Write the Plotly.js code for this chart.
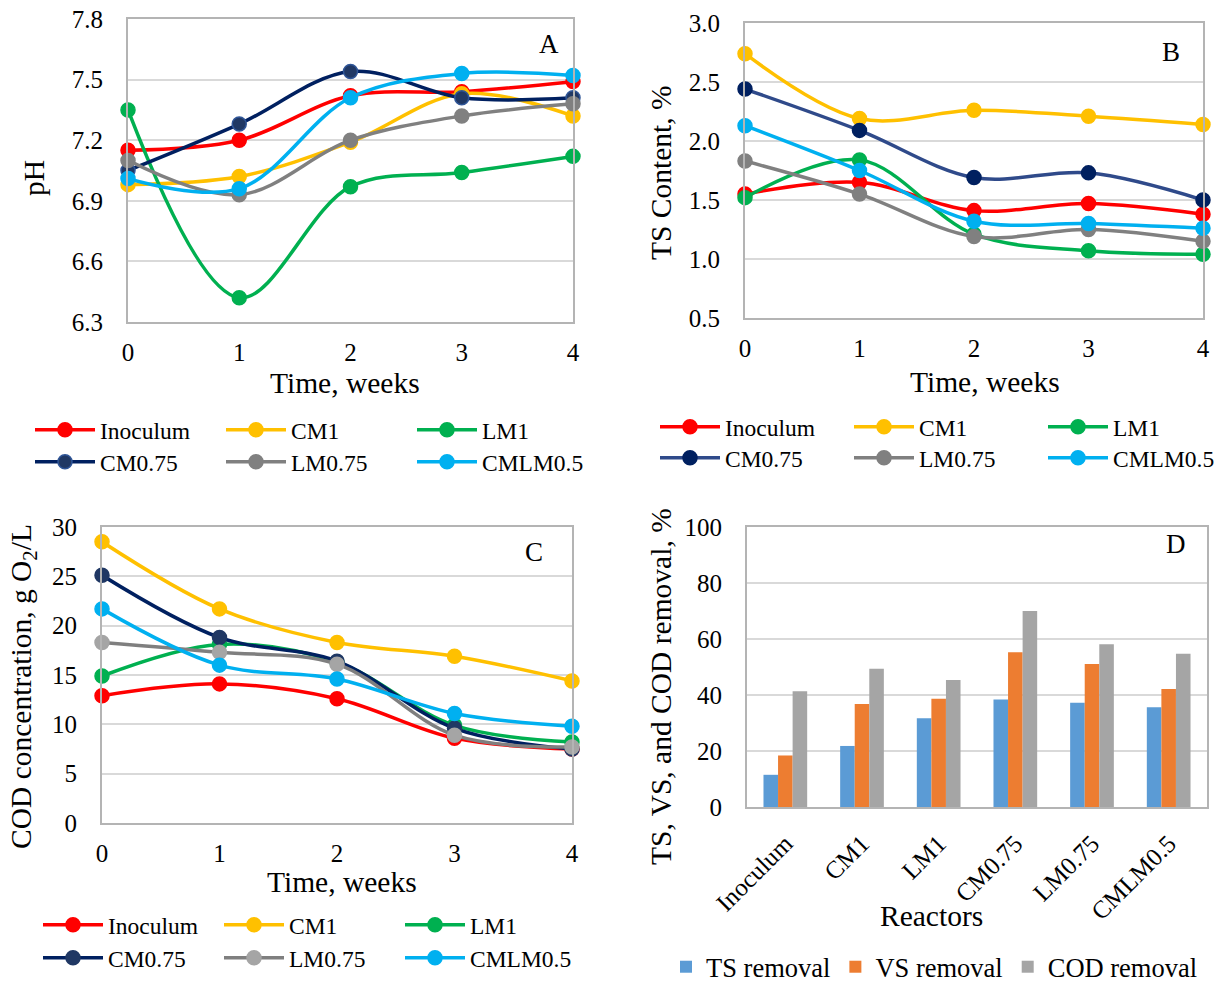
<!DOCTYPE html>
<html>
<head>
<meta charset="utf-8">
<script src="https://cdn.plot.ly/plotly-3.0.1.min.js"></script>
<style>
  html, body { margin: 0; padding: 0; background: #ffffff; }
  #chart { width: 1227px; height: 985px; }
</style>
</head>
<body>
<div id="chart"></div>
<script>
// data
var weeks = [0, 1, 2, 3, 4];
var reactors = ["Inoculum", "CM1", "LM1", "CM0.75", "LM0.75", "CMLM0.5"];

// A: pH
var phInoculum = [7.15, 7.20, 7.42, 7.44, 7.49];
var phCM1      = [6.98, 7.02, 7.19, 7.43, 7.32];
var phLM1      = [7.35, 6.42, 6.97, 7.04, 7.12];
var phCM075    = [7.05, 7.28, 7.54, 7.41, 7.41];
var phLM075    = [7.10, 6.93, 7.20, 7.32, 7.38];
var phCMLM05   = [7.01, 6.96, 7.41, 7.53, 7.52];

// B: TS content, %
var tsInoculum = [1.55, 1.65, 1.41, 1.47, 1.38];
var tsCM1      = [2.74, 2.19, 2.26, 2.21, 2.14];
var tsLM1      = [1.52, 1.84, 1.21, 1.07, 1.04];
var tsCM075    = [2.44, 2.09, 1.69, 1.73, 1.50];
var tsLM075    = [1.83, 1.55, 1.19, 1.25, 1.15];
var tsCMLM05   = [2.13, 1.75, 1.32, 1.30, 1.26];

// C: COD, g O2/L
var codInoculum = [12.9, 14.1, 12.6, 8.6, 7.5];
var codCM1      = [28.5, 21.7, 18.3, 16.9, 14.4];
var codLM1      = [14.9, 18.1, 16.3, 9.9, 8.2];
var codCM075    = [25.1, 18.8, 16.4, 9.6, 7.5];
var codLM075    = [18.3, 17.3, 16.1, 8.9, 7.7];
var codCMLM05   = [21.7, 16.0, 14.6, 11.1, 9.8];

// D: removal, %
var tsRemoval  = [11.5, 21.8, 31.7, 38.4, 37.2, 35.6];
var vsRemoval  = [18.4, 36.8, 38.7, 55.3, 51.1, 42.1];
var codRemoval = [41.3, 49.4, 45.4, 70.0, 58.1, 54.7];

var W = 1227, H = 985;

function px(x) { return x / W; }
function py(y) { return 1 - y / H; }

function serifFont(size)
{
    return { family: "Liberation Serif", size: size, color: "#000000" };
}

function lineTrace(name, y, color, markerColor, markerLine, xa, ya, legend)
{
    return {
        x: weeks,
        y: y,
        name: name,
        type: "scatter",
        mode: "lines+markers",
        xaxis: xa,
        yaxis: ya,
        legend: legend,
        cliponaxis: false,
        line: { color: color, width: 3.5, shape: "spline", smoothing: 1 },
        marker: { size: 14, color: markerColor, line: { color: markerLine, width: 1.5 } }
    };
}

var plotData = [];

// panel A
plotData.push(
    lineTrace("Inoculum", phInoculum, "#FF0000", "#FF0000", "#FF0000", "x", "y", "legend"),
    lineTrace("CM1", phCM1, "#FFC000", "#FFC000", "#FFC000", "x", "y", "legend"),
    lineTrace("LM1", phLM1, "#00B050", "#00B050", "#00B050", "x", "y", "legend"),
    lineTrace("CM0.75", phCM075, "#002060", "#203864", "#2F5597", "x", "y", "legend2"),
    lineTrace("LM0.75", phLM075, "#808080", "#808080", "#808080", "x", "y", "legend2"),
    lineTrace("CMLM0.5", phCMLM05, "#00B0F0", "#00B0F0", "#00B0F0", "x", "y", "legend2")
);

// panel B
plotData.push(
    lineTrace("Inoculum", tsInoculum, "#FF0000", "#FF0000", "#FF0000", "x2", "y2", "legend3"),
    lineTrace("CM1", tsCM1, "#FFC000", "#FFC000", "#FFC000", "x2", "y2", "legend3"),
    lineTrace("LM1", tsLM1, "#00B050", "#00B050", "#00B050", "x2", "y2", "legend3"),
    lineTrace("CM0.75", tsCM075, "#2F4A8A", "#002060", "#002060", "x2", "y2", "legend4"),
    lineTrace("LM0.75", tsLM075, "#808080", "#808080", "#808080", "x2", "y2", "legend4"),
    lineTrace("CMLM0.5", tsCMLM05, "#00B0F0", "#00B0F0", "#00B0F0", "x2", "y2", "legend4")
);

// panel C
plotData.push(
    lineTrace("Inoculum", codInoculum, "#FF0000", "#FF0000", "#FF0000", "x3", "y3", "legend5"),
    lineTrace("CM1", codCM1, "#FFC000", "#FFC000", "#FFC000", "x3", "y3", "legend5"),
    lineTrace("LM1", codLM1, "#00B050", "#00B050", "#00B050", "x3", "y3", "legend5"),
    lineTrace("CM0.75", codCM075, "#002060", "#203864", "#203864", "x3", "y3", "legend6"),
    lineTrace("LM0.75", codLM075, "#7F7F7F", "#A5A5A5", "#A5A5A5", "x3", "y3", "legend6"),
    lineTrace("CMLM0.5", codCMLM05, "#00B0F0", "#00B0F0", "#00B0F0", "x3", "y3", "legend6")
);

// panel D
var barSeries = [
    { name: "TS removal", y: tsRemoval, color: "#5B9BD5" },
    { name: "VS removal", y: vsRemoval, color: "#ED7D31" },
    { name: "COD removal", y: codRemoval, color: "#A5A5A5" }
];
for (var s of barSeries)
{
    plotData.push({
        x: reactors,
        y: s.y,
        name: s.name,
        type: "bar",
        xaxis: "x4",
        yaxis: "y4",
        legend: "legend7",
        marker: { color: s.color }
    });
}

var frameColor = "#B4B4B4";

function xAxis(domain, anchor)
{
    return {
        domain: domain,
        anchor: anchor,
        range: [0, 4],
        dtick: 1,
        showgrid: false,
        zeroline: false,
        showline: true,
        mirror: true,
        linecolor: frameColor,
        linewidth: 2,
        ticks: "",
        ticklabelstandoff: 7,
        tickfont: serifFont(25),
        fixedrange: true
    };
}

function yAxis(domain, anchor, range, dtick, fmt)
{
    return {
        domain: domain,
        anchor: anchor,
        range: range,
        dtick: dtick,
        tickformat: fmt,
        showgrid: true,
        gridcolor: "#D9D9D9",
        gridwidth: 2,
        zeroline: false,
        showline: true,
        mirror: true,
        linecolor: frameColor,
        linewidth: 2,
        ticks: "",
        ticklabelstandoff: 18,
        tickfont: serifFont(25),
        fixedrange: true
    };
}

function legendRow(x, y, entrywidth, size)
{
    return {
        x: px(x),
        y: py(y),
        xanchor: "left",
        yanchor: "middle",
        orientation: "h",
        font: serifFont(size),
        itemwidth: 60,
        entrywidth: entrywidth,
        entrywidthmode: "pixels",
        bgcolor: "rgba(0,0,0,0)",
        tracegroupgap: 0
    };
}

function label(text, x, y, size, angle)
{
    return {
        text: text,
        xref: "paper",
        yref: "paper",
        x: px(x),
        y: py(y),
        xanchor: "center",
        yanchor: "middle",
        textangle: angle || 0,
        showarrow: false,
        font: serifFont(size)
    };
}

var layout = {
    width: W,
    height: H,
    margin: { l: 0, r: 0, t: 0, b: 0, autoexpand: false },
    paper_bgcolor: "#ffffff",
    plot_bgcolor: "#ffffff",
    font: serifFont(20),
    showlegend: true,
    barmode: "group",
    bargap: 0.43,
    bargroupgap: 0,

    xaxis: xAxis([px(128), px(573)], "y"),
    yaxis: yAxis([py(322), py(19)], "x", [6.3, 7.8], 0.3, ".1f"),

    xaxis2: xAxis([px(745), px(1203)], "y2"),
    yaxis2: yAxis([py(318), py(23)], "x2", [0.5, 3.0], 0.5, ".1f"),

    xaxis3: xAxis([px(102), px(572)], "y3"),
    yaxis3: yAxis([py(823), py(527)], "x3", [0, 30], 5, "d"),

    xaxis4: {
        domain: [px(747), px(1207)],
        anchor: "y4",
        type: "category",
        showgrid: false,
        zeroline: false,
        showline: true,
        mirror: true,
        linecolor: frameColor,
        linewidth: 2,
        ticks: "",
        tickangle: -45,
        ticklabelstandoff: 10,
        tickfont: serifFont(25),
        fixedrange: true
    },
    yaxis4: yAxis([py(807), py(527)], "x4", [0, 100], 20, "d"),

    legend: legendRow(30, 430, 116, 23.5),
    legend2: legendRow(30, 462, 116, 23.5),
    legend3: legendRow(655, 427, 119, 23.5),
    legend4: legendRow(655, 458, 119, 23.5),
    legend5: legendRow(38, 925, 106, 23.5),
    legend6: legendRow(38, 958, 106, 23.5),
    legend7: {
        x: px(666),
        y: py(967),
        xanchor: "left",
        yanchor: "middle",
        orientation: "h",
        font: serifFont(26.5),
        itemwidth: 30,
        bgcolor: "rgba(0,0,0,0)"
    },

    annotations: [
        // axis titles
        label("pH", 34, 178, 29.5, -90),
        label("Time, weeks", 345, 383, 29.5),
        label("TS Content, %", 661, 173, 29.5, -90),
        label("Time, weeks", 985, 382, 29.5),
        label("COD concentration, g O<sub>2</sub>/L", 23, 687, 29.5, -90),
        label("Time, weeks", 342, 882, 29.5),
        label("TS, VS, and COD removal, %", 661, 687, 29.5, -90),
        label("Reactors", 932, 916, 29.5),
        // panel letters
        label("A", 549, 44, 27),
        label("B", 1171, 52, 27),
        label("C", 534, 552, 27),
        label("D", 1176, 544, 27)
    ]
};

var config = { staticPlot: true, displayModeBar: false };

Plotly.newPlot("chart", plotData, layout, config);
</script>
</body>
</html>
